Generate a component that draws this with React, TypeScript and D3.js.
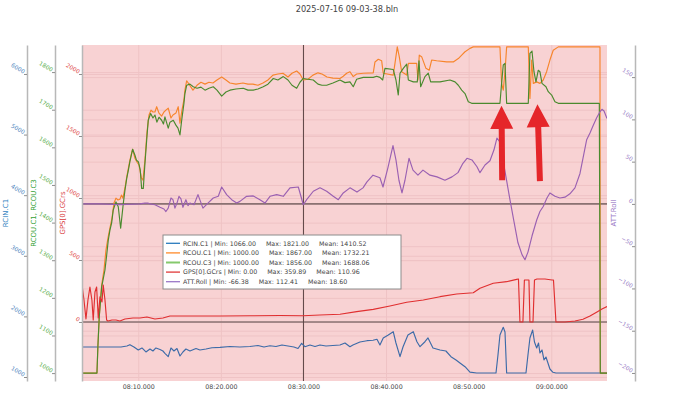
import { useEffect, useRef } from 'react';
import * as d3 from 'd3';

const chartTitle = '2025-07-16 09-03-38.bln';

// time = minutes after 08:00:00 (2025-07-16), value in the series' own unit
const rcinC1 = [
  [3.19, 1495], [7.91, 1495], [8.63, 1512], [8.99, 1533], [9.48, 1495], [10.0, 1446], [10.45, 1479],
  [10.93, 1413], [11.42, 1462], [11.78, 1429], [12.14, 1479], [12.63, 1454], [12.99, 1429], [13.23, 1391],
  [13.63, 1335], [13.96, 1479], [14.32, 1429], [14.69, 1470], [15.05, 1347], [15.41, 1413], [15.77, 1462],
  [16.26, 1429], [16.99, 1470], [17.47, 1446], [18.2, 1462], [18.92, 1483], [19.89, 1490], [21.1, 1503],
  [22.31, 1495], [23.52, 1503], [24.49, 1520], [25.22, 1495], [25.95, 1516], [26.67, 1503], [27.4, 1528],
  [28.13, 1512], [28.85, 1495], [29.34, 1470], [29.78, 1556], [30.18, 1500], [30.79, 1528], [31.4, 1503],
  [32.0, 1528], [32.73, 1512], [33.57, 1520], [34.42, 1528], [35.03, 1561], [35.63, 1500], [35.99, 1528],
  [36.84, 1578], [37.69, 1599], [38.42, 1606], [38.9, 1622], [39.26, 1528], [39.66, 1644], [40.27, 1693],
  [40.87, 1747], [41.2, 1561], [41.69, 1335], [42.05, 1495], [42.65, 1693], [43.3, 1747], [43.74, 1582],
  [44.11, 1500], [44.71, 1582], [45.08, 1644], [45.68, 1479], [46.53, 1446], [47.25, 1429], [47.86, 1335],
  [48.47, 1281], [48.95, 1231], [49.56, 1170], [50.16, 1080], [50.97, 1066], [53.31, 1066], [53.55, 1363],
  [53.79, 1693], [54.19, 1821], [54.4, 1743], [54.6, 1066], [56.94, 1066], [57.18, 1363], [57.42, 1644],
  [57.75, 1776], [57.97, 1578], [58.24, 1479], [58.46, 1561], [58.63, 1396], [58.88, 1446], [59.12, 1281],
  [59.36, 1330], [59.6, 1231], [59.84, 1132], [60.21, 1078], [60.57, 1066], [66.75, 1066],
];

const rcouC1 = [
  [3.19, 1000], [5.0, 1000], [5.12, 1074], [5.28, 1151], [5.57, 1234], [5.85, 1274], [6.09, 1327],
  [6.33, 1359], [6.57, 1385], [6.82, 1412], [7.06, 1452], [7.3, 1465], [7.54, 1460], [7.78, 1462],
  [7.97, 1473], [8.15, 1465], [8.39, 1492], [8.63, 1524], [8.99, 1566], [9.32, 1595], [9.6, 1571],
  [9.84, 1561], [10.09, 1553], [10.39, 1518], [10.57, 1513], [10.81, 1566], [11.06, 1641], [11.3, 1686],
  [11.54, 1699], [11.78, 1694], [12.02, 1694], [12.23, 1708], [12.51, 1691], [12.83, 1683], [13.11, 1694],
  [13.35, 1699], [13.63, 1704], [13.96, 1678], [14.2, 1686], [14.56, 1691], [14.84, 1708], [15.05, 1664],
  [15.29, 1699], [15.53, 1726], [15.65, 1752], [15.86, 1777], [16.14, 1768], [16.62, 1752], [17.11, 1765],
  [17.59, 1773], [18.08, 1768], [18.56, 1773], [19.04, 1771], [19.53, 1779], [20.1, 1787], [20.62, 1779],
  [21.1, 1771], [21.83, 1768], [22.68, 1771], [23.28, 1768], [23.89, 1768], [24.49, 1765], [25.1, 1771],
  [25.7, 1779], [26.31, 1792], [26.91, 1795], [27.52, 1797], [28.13, 1787], [28.61, 1797], [29.18, 1803],
  [29.58, 1795], [29.98, 1779], [30.55, 1781], [31.15, 1792], [31.76, 1798], [32.24, 1795], [32.85, 1787],
  [33.57, 1784], [34.42, 1783], [34.82, 1789], [35.23, 1797], [35.63, 1801], [36.03, 1788], [36.44, 1795],
  [37.24, 1797], [38.45, 1798], [38.66, 1827], [39.06, 1834], [39.47, 1830], [39.66, 1797], [40.87, 1792],
  [41.08, 1823], [41.36, 1867], [41.6, 1841], [41.89, 1801], [42.5, 1792], [42.7, 1823], [43.71, 1823],
  [43.86, 1779], [44.02, 1845], [44.31, 1841], [44.83, 1810], [45.23, 1805], [45.52, 1832], [46.13, 1830],
  [47.34, 1827], [48.14, 1827], [48.75, 1836], [49.16, 1845], [49.56, 1854], [50.16, 1863], [50.56, 1867],
  [53.79, 1867], [53.99, 1770], [54.19, 1752], [54.4, 1801], [54.6, 1867], [57.22, 1867], [57.42, 1730],
  [57.63, 1832], [57.83, 1770], [58.24, 1774], [58.63, 1770], [59.03, 1779], [59.44, 1801], [59.84, 1832],
  [60.24, 1858], [60.85, 1867], [65.9, 1867], [65.94, 1000], [66.75, 1000],
];

const rcouC3 = [
  [3.19, 1000], [5.0, 1000], [5.12, 1074], [5.28, 1150], [5.57, 1229], [5.73, 1247], [5.97, 1274],
  [6.18, 1314], [6.37, 1353], [6.57, 1380], [6.78, 1399], [6.97, 1433], [7.3, 1455], [7.58, 1442],
  [7.87, 1385], [8.19, 1451], [8.39, 1486], [8.6, 1517], [8.81, 1540], [8.99, 1562], [9.32, 1595],
  [9.6, 1579], [9.78, 1566], [10.03, 1561], [10.24, 1540], [10.41, 1491], [10.61, 1491], [10.81, 1557],
  [11.02, 1619], [11.21, 1672], [11.5, 1690], [11.78, 1678], [12.02, 1686], [12.26, 1667], [12.51, 1680],
  [12.83, 1672], [13.05, 1662], [13.23, 1681], [13.63, 1651], [13.84, 1667], [14.24, 1672], [14.56, 1659],
  [14.81, 1651], [15.05, 1633], [15.26, 1672], [15.53, 1717], [15.65, 1743], [15.86, 1765], [16.26, 1768],
  [16.66, 1761], [17.11, 1757], [17.59, 1760], [18.08, 1752], [18.56, 1757], [19.08, 1761], [19.53, 1752],
  [20.1, 1736], [20.62, 1747], [21.1, 1752], [21.83, 1755], [22.71, 1757], [23.28, 1752], [23.92, 1752],
  [24.49, 1755], [25.13, 1761], [25.7, 1768], [26.35, 1783], [26.91, 1779], [27.56, 1788], [28.13, 1779],
  [28.61, 1765], [29.18, 1757], [29.58, 1773], [29.98, 1783], [30.55, 1781], [31.19, 1779], [31.76, 1768],
  [32.24, 1765], [32.81, 1765], [33.57, 1771], [34.42, 1779], [35.03, 1772], [35.63, 1774], [36.03, 1761],
  [36.44, 1781], [37.24, 1786], [38.45, 1786], [38.86, 1789], [39.26, 1786], [39.59, 1779], [39.87, 1810],
  [40.87, 1807], [41.2, 1779], [41.48, 1739], [41.69, 1797], [42.09, 1810], [42.5, 1821], [42.7, 1779],
  [43.3, 1774], [43.78, 1774], [43.99, 1830], [44.19, 1761], [44.71, 1788], [45.11, 1797], [45.4, 1774],
  [46.53, 1774], [47.74, 1779], [48.35, 1774], [48.75, 1765], [49.16, 1752], [49.56, 1743], [49.96, 1721],
  [50.37, 1717], [53.79, 1717], [53.99, 1770], [54.19, 1819], [54.4, 1823], [54.6, 1717], [57.22, 1717],
  [57.42, 1850], [57.67, 1856], [57.91, 1801], [58.15, 1774], [58.43, 1805], [58.63, 1801], [58.88, 1770],
  [59.36, 1761], [59.64, 1748], [60.05, 1739], [60.45, 1721], [60.85, 1717], [65.82, 1717], [65.94, 1000],
  [66.75, 1000],
];

const gpsGCrs = [
  [3.19, 298], [3.43, 177], [3.67, 24], [3.91, 177], [4.15, 282], [4.39, 177], [4.55, 16], [4.76, 242],
  [4.96, 282], [5.16, 32], [5.36, 202], [5.61, 161], [5.76, 298], [5.97, 177], [6.17, 16], [6.33, 8],
  [6.82, 16], [7.3, 16], [7.78, 8], [8.39, 24], [9.36, 32], [10.21, 32], [11.05, 40], [12.02, 24],
  [12.99, 32], [13.84, 48], [15.05, 48], [17.47, 48], [19.89, 48], [23.52, 50], [27.16, 52], [29.94, 50],
  [32.0, 56], [34.42, 62], [36.44, 83], [38.45, 102], [40.47, 129], [42.5, 159], [44.51, 177], [46.53, 204],
  [48.55, 226], [50.56, 236], [51.37, 272], [52.98, 312], [54.6, 325], [55.81, 344], [56.03, 347],
  [56.21, 0], [56.57, 0], [56.75, 339], [57.3, 339], [57.42, 0], [57.79, 0], [57.97, 339], [58.27, 347],
  [59.24, 347], [60.09, 339], [60.27, 339], [60.57, 0], [61.66, 0], [62.87, 8], [63.84, 22], [64.69, 48],
  [65.54, 81], [66.14, 105], [66.75, 125],
];

const attRoll = [
  [3.19, 0], [5.36, 0], [7.78, -1], [10.21, 0], [10.81, 1], [11.17, 1], [11.42, 0], [12.02, -1],
  [12.63, -4], [13.11, -6], [13.35, -9], [13.63, -5], [13.96, 7], [14.2, 5], [14.44, -5], [14.69, 1],
  [14.93, 9], [15.17, 6], [15.41, -4], [15.77, 5], [16.02, -2], [16.26, 1], [16.75, -1], [17.23, 11],
  [17.83, -5], [18.44, 1], [19.08, 7], [19.69, 9], [20.1, 20], [20.7, 11], [21.31, 5], [21.92, 1],
  [22.31, 3], [23.12, 9], [23.92, 9.5], [24.73, 5], [25.34, 1], [25.95, 9], [26.76, 11], [27.56, 9],
  [28.37, 19], [29.38, 20], [29.98, -1], [30.39, 5], [31.19, 15], [32.0, 19], [32.81, 15], [33.61, 9],
  [34.22, 5], [34.82, 13], [35.63, 19], [36.48, 14], [37.21, 19], [37.69, 26], [38.42, 34], [39.26, 31],
  [39.63, 20], [40.23, 43], [40.84, 69], [41.2, 52], [41.56, 28], [41.93, 13], [42.29, 28], [42.78, 54],
  [43.26, 40], [43.86, 34], [44.47, 40], [45.32, 34], [46.17, 32], [47.13, 28], [47.98, 32], [48.71, 37],
  [49.31, 48], [49.8, 54], [50.4, 52], [51.01, 44], [51.37, 37], [51.98, 46], [52.58, 51], [53.07, 64],
  [53.43, 78], [53.79, 73], [54.15, 52], [54.52, 32], [55.0, 5], [55.49, -21], [55.97, -46], [56.46, -60],
  [56.82, -66], [57.18, -57], [57.67, -38], [58.24, -19], [58.63, -9], [59.03, -3], [59.48, 7], [59.84, 13],
  [60.45, 9], [61.05, 7], [61.66, 8], [62.26, 12], [62.87, 19], [63.48, 36], [63.84, 54], [64.29, 76],
  [64.69, 84], [65.09, 93], [65.5, 102], [65.9, 109], [66.14, 112], [66.39, 110], [66.75, 101],
];

const seriesNames = ['RCIN.C1', 'RCOU.C1', 'RCOU.C3', 'GPS[0].GCrs', 'ATT.Roll'];
const seriesMin = ['1066.00', '1000.00', '1000.00', '0.00', '-66.38'];
const seriesMax = ['1821.00', '1867.00', '1856.00', '359.89', '112.41'];
const seriesMean = ['1410.52', '1732.21', '1688.06', '110.96', '18.60'];
const legendColors = ['#2a7bbd', '#ff8a2a', '#85c96c', '#e03a3a', '#9a78c8'];
const traceColors = ['#3d6ba8', '#f7852c', '#4a8a2e', '#e02f30', '#9a60b2'];

const xTickMinutes = [10, 20, 30, 40, 50, 60];
const rcinTicks = [1000, 2000, 3000, 4000, 5000, 6000];
const rcouTicks = [1000, 1100, 1200, 1300, 1400, 1500, 1600, 1700, 1800];
const gpsTicks = [0, 500, 1000, 1500, 2000];
const rollTicks = [-200, -150, -100, -50, 0, 50, 100, 150];
const markerMinute = 30;

// the two red arrows pasted on the screenshot: [tip, tail] in (minute, roll)
const arrowMinutes = [[53.98, 54.06], [58.33, 58.63]];
const arrowRoll = [[116, 28], [118, 27]];

const font = '"DejaVu Sans", Verdana, sans-serif';
const gap = '\u00a0'.repeat(5);

function LogChart() {
  const svgRef = useRef<SVGSVGElement>(null);

  useEffect(() => {
    const svg = d3.select(svgRef.current);
    svg.selectAll('*').remove();

    const left = 82, right = 607, top = 45, bottom = 381;
    const base = new Date(2025, 6, 16, 8, 0, 0).getTime();
    const toDate = (m: number) => new Date(base + m * 60000);

    const x = d3.scaleTime().domain([toDate(3.19), toDate(66.75)]).range([left, right]);
    const yRcin = d3.scaleLinear().domain([934, 6478]).range([bottom, top]);
    const yRcou = d3.scaleLinear().domain([979, 1872]).range([bottom, top]);
    const yGps = d3.scaleLinear().domain([-476, 2234]).range([bottom, top]);
    const yRoll = d3.scaleLinear().domain([-209.5, 188]).range([bottom, top]);

    // plot background
    svg.append('rect')
      .attr('x', left).attr('y', top)
      .attr('width', right - left).attr('height', bottom - top)
      .attr('fill', '#f8d2d3');

    // Grid lines
    const gridColor = '#efc3c5';
    svg.append('g')
      .attr('transform', `translate(0,${bottom})`)
      .call(d3.axisBottom(x).tickValues(xTickMinutes.map(toDate)).tickSize(-(bottom - top)).tickFormat(() => ''))
      .call(g => g.select('.domain').remove())
      .selectAll('line').attr('stroke', gridColor);

    [[yRcin, rcinTicks], [yRcou, rcouTicks], [yGps, gpsTicks], [yRoll, rollTicks]].forEach(([sc, ticks]: any) => {
      svg.append('g')
        .attr('transform', `translate(${left},0)`)
        .call(d3.axisLeft(sc).tickValues(ticks).tickSize(-(right - left)).tickFormat(() => ''))
        .call(g => g.select('.domain').remove())
        .selectAll('line').attr('stroke', gridColor);
    });

    // zero lines
    [yRoll(0), yGps(0)].forEach(zy => {
      svg.append('line')
        .attr('x1', left).attr('x2', right).attr('y1', zy).attr('y2', zy)
        .attr('stroke', '#8a7272').attr('stroke-width', 1.6);
    });

    // cursor line at 08:30
    svg.append('line')
      .attr('x1', x(toDate(markerMinute))).attr('x2', x(toDate(markerMinute)))
      .attr('y1', top).attr('y2', bottom)
      .attr('stroke', '#5b4343').attr('stroke-width', 1);

    svg.append('clipPath').attr('id', 'plot-clip')
      .append('rect').attr('x', left).attr('y', top).attr('width', right - left).attr('height', bottom - top);

    const seriesData = [rcinC1, rcouC1, rcouC3, gpsGCrs, attRoll];
    const seriesScale = [yRcin, yRcou, yRcou, yGps, yRoll];
    const traces = svg.append('g').attr('clip-path', 'url(#plot-clip)');
    seriesData.forEach((data, i) => {
      const line = d3.line<number[]>()
        .x(d => x(toDate(d[0])))
        .y(d => seriesScale[i](d[1]));
      traces.append('path')
        .datum(data)
        .attr('fill', 'none')
        .attr('stroke', traceColors[i])
        .attr('stroke-width', 1.15)
        .attr('stroke-linejoin', 'round')
        .attr('d', line);
    });

    // Y axes
    const addAxis = (ax: number, sc: d3.ScaleLinear<number, number>, ticks: number[], color: string) => {
      const g = svg.append('g')
        .attr('transform', `translate(${ax},0)`)
        .call(d3.axisLeft(sc).tickValues(ticks).tickSize(3).tickSizeOuter(0)
          .tickFormat(d => String(d).replace('-', '\u2212')));
      g.attr('font-family', font).attr('font-size', 5.8);
      g.select('.domain').attr('stroke', '#b8b8b8').attr('stroke-width', 1.5);
      g.selectAll('.tick line').attr('stroke', '#8f8f8f');
      g.selectAll('.tick text')
        .attr('fill', color)
        .attr('x', -3.5)
        .attr('dy', '0.2em')
        .attr('transform', 'rotate(30)');
    };
    addAxis(27, yRcin, rcinTicks, '#4f86c0');
    addAxis(55, yRcou, rcouTicks, '#58ad4c');
    addAxis(left, yGps, gpsTicks, '#e04a4a');
    addAxis(635, yRoll, rollTicks, '#9b7fc7');

    const axisTitles = [
      { x: 6, text: 'RCIN.C1', color: '#2f7fc0' },
      { x: 34, text: 'RCOU.C1, RCOU.C3', color: '#35a135' },
      { x: 63, text: 'GPS[0].GCrs', color: '#d83a3a' },
      { x: 614, text: 'ATT.Roll', color: '#9a78c6' },
    ];
    axisTitles.forEach(t => {
      svg.append('text')
        .attr('transform', `translate(${t.x},${(top + bottom) / 2}) rotate(-90)`)
        .attr('text-anchor', 'middle')
        .attr('dy', '0.35em')
        .attr('font-family', font)
        .attr('font-size', 7)
        .attr('fill', t.color)
        .text(t.text);
    });

    // X Axis
    const xg = svg.append('g')
      .attr('transform', `translate(0,${bottom})`)
      .call(d3.axisBottom(x).tickValues(xTickMinutes.map(toDate)).tickSize(0)
        .tickFormat(d => d3.timeFormat('%H:%M.%L')(d as Date)));
    xg.select('.domain').remove();
    xg.attr('font-family', font).attr('font-size', 6.3);
    xg.selectAll('text').attr('fill', '#444').attr('dy', '0.75em').attr('y', 3);

    // Legend
    const lg = svg.append('g').attr('transform', 'translate(163,235)');
    lg.append('rect')
      .attr('width', 238).attr('height', 54)
      .attr('fill', '#fff').attr('stroke', '#8c8c8c').attr('stroke-width', 1);
    seriesNames.forEach((name, i) => {
      const ry = 8.3 + i * 9.6;
      lg.append('line')
        .attr('x1', 3).attr('x2', 17).attr('y1', ry).attr('y2', ry)
        .attr('stroke', legendColors[i]).attr('stroke-width', i === 2 ? 2 : 1.3);
      lg.append('text')
        .attr('x', 20).attr('y', ry).attr('dy', '0.35em')
        .attr('font-family', font).attr('font-size', 6.3)
        .attr('fill', '#444')
        .text(`${name} | Min: ${seriesMin[i]}${gap}Max: ${seriesMax[i]}${gap}Mean: ${seriesMean[i]}`);
    });

    // Arrows
    arrowMinutes.forEach((mins, i) => {
      const tx = x(toDate(mins[0])), ty = yRoll(arrowRoll[i][0]);
      const bx = x(toDate(mins[1])), by = yRoll(arrowRoll[i][1]);
      const len = Math.hypot(bx - tx, by - ty);
      const ux = (bx - tx) / len, uy = (by - ty) / len;
      const px = -uy, py = ux;
      const headLen = 23, headHalf = 11.5, shaftHalf = 3;
      const hx = tx + ux * headLen, hy = ty + uy * headLen;
      const pts = [
        [tx, ty],
        [hx + px * headHalf, hy + py * headHalf],
        [hx + px * shaftHalf, hy + py * shaftHalf],
        [bx + px * shaftHalf, by + py * shaftHalf],
        [bx - px * shaftHalf, by - py * shaftHalf],
        [hx - px * shaftHalf, hy - py * shaftHalf],
        [hx - px * headHalf, hy - py * headHalf],
      ];
      svg.append('polygon')
        .attr('points', pts.map(p => p.join(',')).join(' '))
        .attr('fill', '#e5262a');
    });

    // Title
    svg.append('text')
      .attr('x', 347).attr('y', 12)
      .attr('text-anchor', 'middle')
      .attr('font-family', font).attr('font-size', 8.2)
      .attr('fill', '#444')
      .text(chartTitle);
  }, []);

  return (
    <svg ref={svgRef} width={690} height={394}
      style={{ position: 'absolute', left: 0, top: 0, background: '#fff' }} />
  );
}

export default function App() {
  return <LogChart />;
}
